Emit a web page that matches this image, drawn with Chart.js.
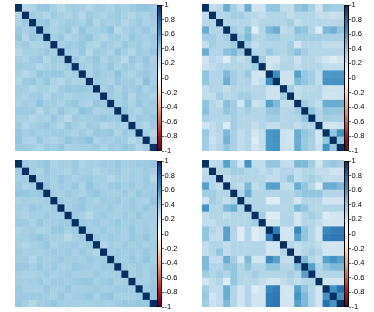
<!DOCTYPE html>
<html><head><meta charset="utf-8">
<script src="https://cdn.jsdelivr.net/npm/chart.js@4/dist/chart.umd.min.js"></script>
<style>
body{margin:0;background:#fff;width:374px;height:312px;overflow:hidden;position:relative}
canvas{position:absolute;display:block}
</style></head><body>
<canvas id="h0" width="142" height="147" style="left:15px;top:4px"></canvas>
<canvas id="c0" width="30" height="156" style="left:157px;top:0px"></canvas>
<canvas id="h1" width="142" height="147" style="left:202px;top:4px"></canvas>
<canvas id="c1" width="30" height="156" style="left:344px;top:0px"></canvas>
<canvas id="h2" width="142" height="147" style="left:15px;top:160px"></canvas>
<canvas id="c2" width="30" height="156" style="left:157px;top:156px"></canvas>
<canvas id="h3" width="142" height="147" style="left:202px;top:160px"></canvas>
<canvas id="c3" width="30" height="156" style="left:344px;top:156px"></canvas>
<script>
// ---------------- DATA ----------------
const variables = ['V1','V2','V3','V4','V5','V6','V7','V8','V9','V10','V11','V12','V13','V14','V15','V16','V17','V18','V19','V20'];
const colorbarTicks = [-1,-0.8,-0.6,-0.4,-0.2,0,0.2,0.4,0.6,0.8,1];

// upper triangles (row i holds correlations with variables i+1 .. 20)
const topLeftUpper = [
[.30,.31,.38,.40,.33,.29,.34,.36,.33,.30,.35,.34,.32,.37,.34,.36,.39,.40,.37],
[.36,.33,.30,.36,.33,.31,.35,.29,.37,.33,.31,.35,.37,.33,.30,.35,.32,.36],
[.37,.39,.31,.33,.36,.35,.32,.38,.30,.35,.33,.36,.30,.34,.37,.31,.35],
[.36,.32,.35,.38,.30,.40,.33,.34,.36,.41,.29,.33,.36,.34,.38,.32],
[.34,.38,.30,.33,.37,.40,.33,.30,.35,.36,.32,.38,.35,.33,.37],
[.33,.37,.35,.39,.32,.30,.36,.35,.32,.38,.34,.36,.31,.35],
[.35,.32,.38,.29,.36,.35,.32,.40,.34,.30,.37,.34,.39],
[.37,.32,.35,.39,.31,.36,.34,.28,.38,.34,.40,.32],
[.35,.32,.37,.34,.39,.32,.36,.35,.31,.36,.33],
[.32,.38,.35,.33,.41,.34,.31,.36,.38,.34],
[.36,.34,.31,.38,.35,.36,.32,.42,.34],
[.33,.38,.31,.36,.35,.38,.32,.36],
[.36,.33,.39,.30,.37,.35,.32],
[.34,.37,.31,.39,.34,.36],
[.38,.34,.31,.37,.35],
[.32,.37,.35,.39],
[.35,.30,.37],
[.33,.30],
[.35]
];
const topRightUpper = [
[.25,.28,.50,.35,.25,.50,.20,.22,.40,.40,.25,.25,.40,.42,.33,.20,.38,.35,.35],
[.30,.30,.35,.35,.30,.28,.25,.30,.30,.30,.25,.30,.30,.30,.25,.25,.22,.25],
[.30,.30,.30,.30,.25,.30,.30,.30,.30,.35,.25,.30,.30,.30,.28,.28,.30],
[.35,.30,.42,.15,.30,.45,.50,.25,.28,.42,.40,.30,.15,.45,.48,.40],
[.35,.45,.30,.30,.35,.35,.30,.30,.35,.35,.35,.35,.33,.33,.33],
[.35,.25,.30,.30,.30,.30,.35,.20,.30,.30,.30,.25,.25,.25],
[.30,.30,.38,.32,.30,.35,.42,.35,.30,.30,.30,.30,.30],
[.35,.20,.20,.28,.30,.22,.30,.30,.25,.20,.15,.20],
[.20,.25,.30,.30,.25,.30,.30,.30,.25,.25,.25],
[.62,.22,.22,.55,.38,.35,.25,.58,.58,.58],
[.22,.22,.45,.40,.35,.25,.60,.60,.60],
[.35,.25,.28,.28,.30,.22,.22,.22],
[.25,.30,.30,.30,.20,.20,.22],
[.35,.30,.25,.50,.50,.50],
[.40,.30,.40,.38,.38],
[.30,.35,.33,.33],
[.20,.20,.22],
[.40,.60],
[.40]
];
const bottomLeftUpper = [
[.36,.34,.37,.40,.32,.35,.33,.37,.31,.34,.33,.36,.35,.38,.34,.35,.37,.36,.38],
[.35,.32,.38,.34,.33,.31,.36,.33,.34,.30,.33,.35,.37,.32,.34,.33,.36,.34],
[.34,.36,.33,.38,.35,.32,.35,.37,.33,.34,.30,.34,.32,.35,.33,.37,.29],
[.38,.33,.36,.34,.39,.32,.40,.35,.33,.36,.38,.34,.37,.33,.36,.35],
[.35,.33,.37,.34,.32,.36,.39,.35,.33,.34,.36,.33,.38,.35,.36],
[.36,.33,.35,.38,.34,.32,.36,.35,.37,.33,.36,.34,.32,.40],
[.34,.36,.39,.33,.35,.34,.37,.33,.35,.36,.34,.38,.35],
[.36,.33,.28,.35,.37,.34,.33,.36,.34,.38,.33,.35],
[.37,.34,.36,.33,.35,.38,.34,.36,.33,.35,.34],
[.35,.33,.37,.34,.36,.33,.38,.34,.36,.33],
[.36,.34,.37,.35,.33,.38,.35,.39,.34],
[.30,.35,.33,.37,.34,.36,.33,.35],
[.35,.37,.34,.36,.33,.38,.35],
[.36,.34,.38,.35,.40,.34],
[.35,.33,.37,.34,.36],
[.34,.36,.33,.38],
[.35,.34,.37],
[.36,.39],
[.38]
];
const bottomRightUpper = [
[.25,.28,.55,.35,.20,.60,.25,.25,.40,.40,.25,.25,.45,.45,.35,.20,.35,.38,.35],
[.30,.30,.35,.35,.30,.30,.25,.30,.25,.30,.30,.25,.30,.30,.25,.25,.20,.22],
[.25,.30,.30,.30,.30,.30,.25,.25,.30,.40,.25,.30,.35,.30,.25,.25,.25],
[.30,.25,.45,.25,.30,.55,.55,.25,.25,.50,.40,.30,.15,.50,.50,.45],
[.30,.50,.30,.30,.30,.30,.30,.30,.35,.40,.40,.40,.30,.30,.30],
[.30,.30,.30,.15,.15,.30,.30,.20,.30,.30,.30,.20,.20,.20],
[.30,.30,.30,.30,.28,.30,.45,.40,.30,.28,.30,.30,.30],
[.35,.15,.15,.30,.30,.20,.30,.35,.30,.15,.20,.20],
[.20,.20,.30,.30,.20,.30,.30,.25,.20,.20,.20],
[.70,.20,.20,.65,.40,.30,.20,.65,.70,.70],
[.20,.20,.55,.40,.30,.20,.70,.72,.72],
[.30,.25,.30,.30,.25,.20,.20,.20],
[.25,.30,.35,.30,.20,.20,.20],
[.45,.30,.25,.55,.60,.55],
[.55,.30,.40,.45,.45],
[.30,.30,.30,.30],
[.20,.20,.20],
[.60,.75],
[.60]
];

// ---------------- COLOURS ----------------
const palette = ["#67001F","#B2182B","#D6604D","#F4A582","#FDDBC7","#FFFFFF","#D1E5F0","#92C5DE","#4393C3","#2166AC","#053061"];
const palRGB = palette.map(h=>[parseInt(h.slice(1,3),16),parseInt(h.slice(3,5),16),parseInt(h.slice(5,7),16)]);
function colorOf(v){
  const t = Math.max(0,Math.min(1,(v+1)/2))*10;
  const i = Math.min(9,Math.floor(t)), f = t-i;
  const a = palRGB[i], b = palRGB[i+1];
  const c = a.map((x,k)=>Math.round(x+(b[k]-x)*f));
  return 'rgb('+c.join(',')+')';
}
function fullMatrix(upper){
  const n = upper.length+1;
  const m = Array.from({length:n},(_,i)=>Array.from({length:n},(_,j)=>i===j?1:0));
  upper.forEach((row,i)=>row.forEach((v,k)=>{const j=i+1+k; m[i][j]=v; m[j][i]=v;}));
  return m;
}

Chart.defaults.font.family = '"Liberation Sans", Arial, Helvetica, sans-serif';

function heatmap(id, upper){
  const m = fullMatrix(upper);
  const n = variables.length;
  const ov = 0.04;
  const datasets = m.map((row,r)=>({
    data: row.map(()=>[r-ov, r+1+ov]),
    backgroundColor: row.map(v=>colorOf(v)),
    borderWidth: 0,
    barPercentage: 1,
    categoryPercentage: 1.04
  }));
  new Chart(document.getElementById(id), {
    type:'bar',
    data:{labels:variables, datasets},
    options:{
      responsive:false, animation:false, events:[],
      layout:{padding:0},
      plugins:{legend:{display:false}, tooltip:{enabled:false}},
      scales:{
        x:{display:false, stacked:true},
        y:{display:false, stacked:false, min:0, max:n, reverse:true}
      }
    }
  });
}

const borderPlugin = {
  id:'cbBorder',
  afterDatasetsDraw(chart){
    const a = chart.chartArea, ctx = chart.ctx;
    ctx.save(); ctx.strokeStyle='#000'; ctx.lineWidth=1;
    ctx.strokeRect(a.left+0.5, a.top+0.5, a.right-a.left-1, a.bottom-a.top-1);
    ctx.restore();
  }
};

function colorbar(id){
  const steps = 100, datasets = [];
  for(let s=0;s<steps;s++){
    const lo = -1 + 2*s/steps, hi = -1 + 2*(s+1)/steps;
    datasets.push({data:[[lo-0.004, hi+0.004]], backgroundColor:colorOf((lo+hi)/2), borderWidth:0, barPercentage:1, categoryPercentage:1});
  }
  new Chart(document.getElementById(id), {
    type:'bar',
    data:{labels:['r'], datasets},
    options:{
      responsive:false, animation:false, events:[],
      layout:{padding:{top:4,bottom:5,left:0,right:0}},
      plugins:{legend:{display:false}, tooltip:{enabled:false}},
      scales:{
        x:{display:false, stacked:true},
        y:{position:'right', stacked:false, min:-1, max:1,
           afterBuildTicks:s=>{s.ticks = colorbarTicks.map(v=>({value:v}));},
           afterFit:s=>{s.width = 25;},
           border:{display:false},
           grid:{drawOnChartArea:false, drawTicks:true, tickLength:2, color:'#000', lineWidth:0.6},
           ticks:{padding:0.5, color:'#000', font:{size:7.5}, callback:v=>String(Math.round(v*10)/10)}
        }
      }
    },
    plugins:[borderPlugin]
  });
}

heatmap('h0', topLeftUpper);
heatmap('h1', topRightUpper);
heatmap('h2', bottomLeftUpper);
heatmap('h3', bottomRightUpper);
['c0','c1','c2','c3'].forEach(colorbar);
</script>
</body></html>
